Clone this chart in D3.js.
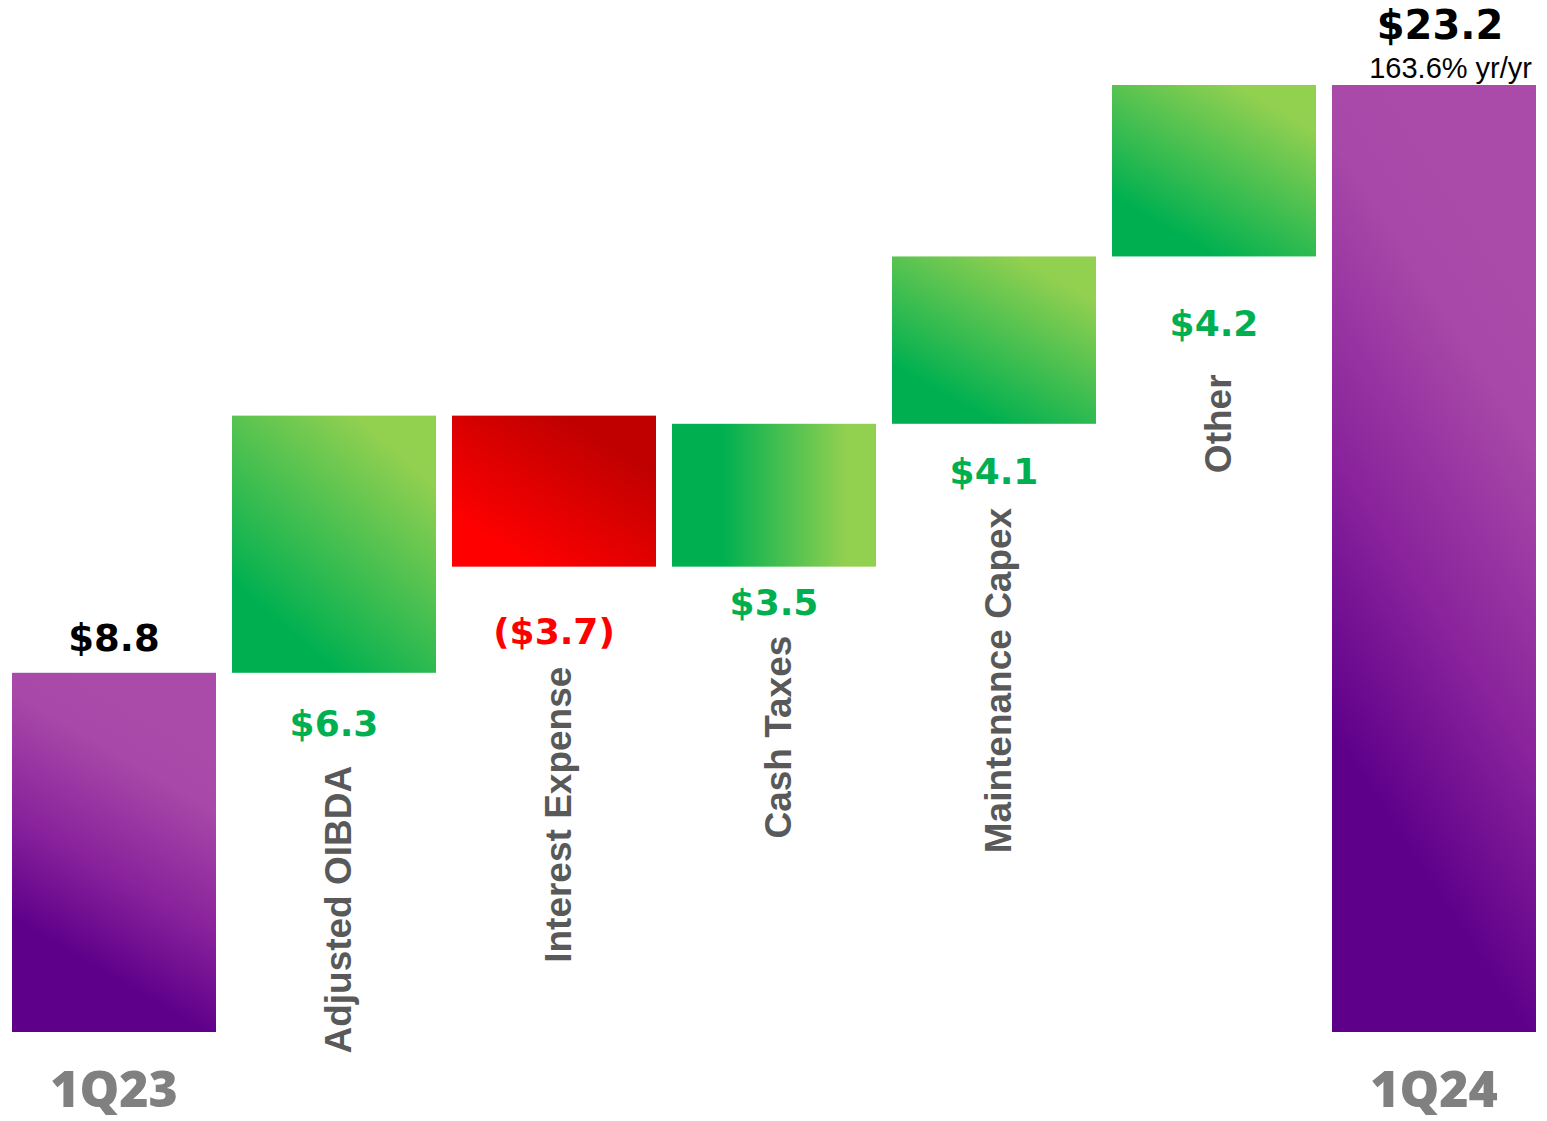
<!DOCTYPE html>
<html>
<head>
<meta charset="utf-8">
<script src="https://cdn.jsdelivr.net/npm/d3@7"></script>
<style>
  body { margin: 0; background: #fff; }
</style>
</head>
<body>
<div id="chart"></div>
<script>
// waterfall data
var categories = ["1Q23", "Adjusted OIBDA", "Interest Expense", "Cash Taxes", "Maintenance Capex", "Other", "1Q24"];
var changes = [8.8, 6.3, -3.7, 3.5, 4.1, 4.2, 23.2];
var kinds = ["total", "up", "down", "up", "up", "up", "total"];
var valueLabels = ["$8.8", "$6.3", "($3.7)", "$3.5", "$4.1", "$4.2", "$23.2"];
var yoyNote = "163.6% yr/yr";
var yMax = 23.2;

// label placement under the floating bars (gap to value baseline, gap to category text)
var labelGaps = {
	"Adjusted OIBDA": [63, 30],
	"Interest Expense": [77, 23],
	"Cash Taxes": [48, 21],
	"Maintenance Capex": [60, 24],
	"Other": [80, 38]
};

var width = 1547, height = 1121;

var svg = d3.select("#chart").append("svg")
	.attr("width", width)
	.attr("height", height);

var defs = svg.append("defs");

function gradient(id, x1, y1, x2, y2, stops) {
	var g = defs.append("linearGradient")
		.attr("id", id)
		.attr("x1", x1).attr("y1", y1)
		.attr("x2", x2).attr("y2", y2);
	stops.forEach(function (s) {
		g.append("stop").attr("offset", s[0]).attr("stop-color", s[1]);
	});
}
gradient("purple", 0.65, 0.05, 0.35, 0.95, [[0, "#ab4ba9"], [0.22, "#a848a8"], [0.55, "#8a239c"], [0.85, "#5e008a"], [1, "#5e008a"]]);
gradient("green", 0.85, 0.05, 0.3, 0.85, [[0, "#92d050"], [0.1, "#92d050"], [1, "#00b050"]]);
gradient("red", 0.85, 0.05, 0.2, 0.85, [[0, "#c00000"], [0.15, "#c00000"], [1, "#ff0000"]]);
gradient("greenH", 0, 0, 1, 0, [[0, "#00b050"], [0.25, "#00b050"], [0.85, "#92d050"], [1, "#92d050"]]);

var x = d3.scaleBand()
	.domain(categories)
	.range([12, 1536])
	.paddingInner(0.0727)
	.paddingOuter(0);

var y = d3.scaleLinear()
	.domain([0, yMax])
	.range([1032, 85]);

// running totals for the floating bars
var running = 0;
var bars = categories.map(function (c, i) {
	var start, end;
	if (kinds[i] === "total") {
		start = 0; end = changes[i]; running = changes[i];
	} else {
		start = running; end = running + changes[i]; running = end;
	}
	return {name: c, start: start, end: end, kind: kinds[i], label: valueLabels[i], i: i};
});

function fillFor(d) {
	if (d.kind === "total") return "url(#purple)";
	if (d.kind === "down") return "url(#red)";
	if (d.name === "Cash Taxes") return "url(#greenH)";
	return "url(#green)";
}

svg.selectAll("rect.bar")
		.data(bars)
	.enter().append("rect")
		.attr("class", "bar")
		.attr("x", function (d) { return x(d.name); })
		.attr("width", x.bandwidth())
		.attr("y", function (d) { return y(Math.max(d.start, d.end)); })
		.attr("height", function (d) { return Math.abs(y(d.start) - y(d.end)); })
		.style("fill", fillFor);

var cx = function (d) { return x(d.name) + x.bandwidth() / 2; };

// totals: value above bar, category below axis
var totals = bars.filter(function (d) { return d.kind === "total"; });

svg.selectAll("text.total-value")
		.data(totals)
	.enter().append("text")
		.attr("class", "total-value")
		.attr("x", function (d) { return d.i === 0 ? cx(d) : cx(d) + 6; })
		.attr("y", function (d) { return d.i === 0 ? y(d.end) - 22 : y(d.end) - 46; })
		.attr("text-anchor", "middle")
		.style("font-family", "DejaVu Sans")
		.style("font-weight", "bold")
		.style("font-size", function (d) { return d.i === 0 ? "37px" : "40px"; })
		.style("fill", "#000")
		.text(function (d) { return d.label; });

svg.append("text")
	.attr("x", 1532)
	.attr("y", y(yMax) - 7)
	.attr("text-anchor", "end")
	.style("font-family", "Liberation Sans")
	.style("font-size", "29px")
	.style("fill", "#000")
	.text(yoyNote);

svg.selectAll("text.total-cat")
		.data(totals)
	.enter().append("text")
		.attr("class", "total-cat")
		.attr("x", cx)
		.attr("y", 1107)
		.attr("text-anchor", "middle")
		.style("font-family", "Open Sans")
		.style("font-weight", "800")
		.style("font-size", "50px")
		.style("fill", "#808080")
		.text(function (d) { return d.name; });

// steps: value below bar, rotated category under it
var steps = bars.filter(function (d) { return d.kind !== "total"; });

function stepBase(d) { return y(Math.min(d.start, d.end)) + labelGaps[d.name][0]; }

svg.selectAll("text.step-value")
		.data(steps)
	.enter().append("text")
		.attr("class", "step-value")
		.attr("x", cx)
		.attr("y", stepBase)
		.attr("text-anchor", "middle")
		.style("font-family", "DejaVu Sans")
		.style("font-weight", "bold")
		.style("font-size", "36px")
		.style("fill", function (d) { return d.kind === "down" ? "#ff0000" : "#00b050"; })
		.text(function (d) { return d.label; });

svg.selectAll("text.step-cat")
		.data(steps)
	.enter().append("text")
		.attr("class", "step-cat")
		.attr("transform", function (d) {
			return "translate(" + (cx(d) + 17) + "," + (stepBase(d) + labelGaps[d.name][1]) + ") rotate(-90)";
		})
		.attr("text-anchor", "end")
		.style("font-family", "Liberation Sans")
		.style("font-weight", "bold")
		.style("font-size", "37px")
		.style("fill", "#595959")
		.text(function (d) { return d.name; });
</script>
</body>
</html>
